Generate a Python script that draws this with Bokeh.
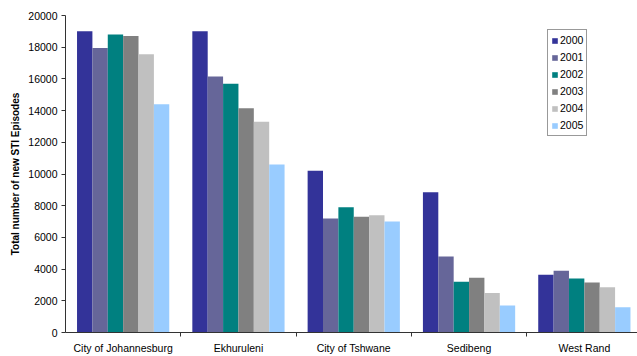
from bokeh.plotting import figure
from bokeh.models import ColumnDataSource, FixedTicker, Range1d, Legend, LegendItem
from bokeh.transform import dodge
from bokeh.embed import file_html
from bokeh.resources import INLINE

# Health districts and reporting years
districts = ["City of Johannesburg", "Ekhuruleni", "City of Tshwane", "Sedibeng", "West Rand"]
years = ["2000", "2001", "2002", "2003", "2004", "2005"]

# New STI episodes per district, one list per year
episodes_2000 = [19000, 19000, 10200, 8850, 3650]
episodes_2001 = [17950, 16150, 7200, 4800, 3900]
episodes_2002 = [18800, 15700, 7900, 3200, 3400]
episodes_2003 = [18700, 14150, 7300, 3450, 3150]
episodes_2004 = [17550, 13300, 7400, 2500, 2850]
episodes_2005 = [14400, 10600, 7000, 1700, 1600]

y_ticks = [0, 2000, 4000, 6000, 8000, 10000, 12000, 14000, 16000, 18000, 20000]

colors = ["#333399", "#666699", "#008080", "#808080", "#C0C0C0", "#99CCFF"]
series = [episodes_2000, episodes_2001, episodes_2002, episodes_2003, episodes_2004, episodes_2005]

FONT = "Liberation Sans"

centers = [i + 0.5 for i in range(len(districts))]
data = {"x": centers}
for yr, vals in zip(years, series):
    data[yr] = vals
source = ColumnDataSource(data)

p = figure(
    width=637, height=356,
    x_range=Range1d(0, 4.961), y_range=Range1d(0, 20000),
    output_backend="svg", toolbar_location=None,
    min_border_left=65, min_border_right=0, min_border_top=15, min_border_bottom=23,
)
p.outline_line_color = None
p.xgrid.grid_line_color = None
p.ygrid.grid_line_color = None
p.background_fill_color = "white"
p.border_fill_color = "white"

n = len(years)
group_w = 0.8
bar_w = group_w / n
items = []
for k, (yr, col) in enumerate(zip(years, colors)):
    off = -group_w / 2 + bar_w * (k + 0.5)
    r = p.vbar(x=dodge("x", off, range=p.x_range), top=yr, width=bar_w,
               source=source, fill_color=col, line_color=None)
    items.append(LegendItem(label=yr, renderers=[r]))

# x axis: district names centred, separators as small ticks between groups
p.xaxis.ticker = FixedTicker(ticks=centers, minor_ticks=[1, 2, 3, 4, 5])
p.xaxis.major_label_overrides = {c: d for c, d in zip(centers, districts)}
p.xaxis.major_tick_line_color = None
p.xaxis.major_tick_in = 0
p.xaxis.major_tick_out = 4
p.xaxis.minor_tick_in = 0
p.xaxis.minor_tick_out = 4
p.xaxis.minor_tick_line_color = "#333333"
p.xaxis.axis_line_color = "#333333"
p.xaxis.major_label_text_font = FONT
p.xaxis.major_label_text_font_size = "10.5px"
p.xaxis.major_label_text_color = "black"
p.xaxis.major_label_standoff = 5

# y axis
p.yaxis.ticker = FixedTicker(ticks=y_ticks)
p.yaxis.minor_tick_line_color = None
p.yaxis.major_tick_in = 0
p.yaxis.major_tick_out = 4
p.yaxis.major_tick_line_color = "#333333"
p.yaxis.axis_line_color = "#333333"
p.yaxis.major_label_text_font = FONT
p.yaxis.major_label_text_font_size = "10.5px"
p.yaxis.major_label_text_color = "black"
p.yaxis.major_label_standoff = 4
p.yaxis.axis_label = "Total number of new STI Episodes"
p.yaxis.axis_label_text_font = FONT
p.yaxis.axis_label_text_font_size = "10px"
p.yaxis.axis_label_text_font_style = "bold"
p.yaxis.axis_label_text_color = "black"
p.yaxis.axis_label_standoff = 4

legend = Legend(items=items, location=(482, 196))
legend.border_line_color = "#333333"
legend.border_line_width = 1.5
legend.background_fill_color = "white"
legend.background_fill_alpha = 1
legend.padding = 3
legend.margin = 0
legend.spacing = 3
legend.glyph_width = 7
legend.glyph_height = 7
legend.label_height = 14
legend.label_standoff = 2
legend.label_text_font = FONT
legend.label_text_font_size = "10.5px"
legend.label_text_color = "black"
legend.label_text_baseline = "middle"
p.add_layout(legend, "center")

open("out.html", "w").write(file_html(p, INLINE))
